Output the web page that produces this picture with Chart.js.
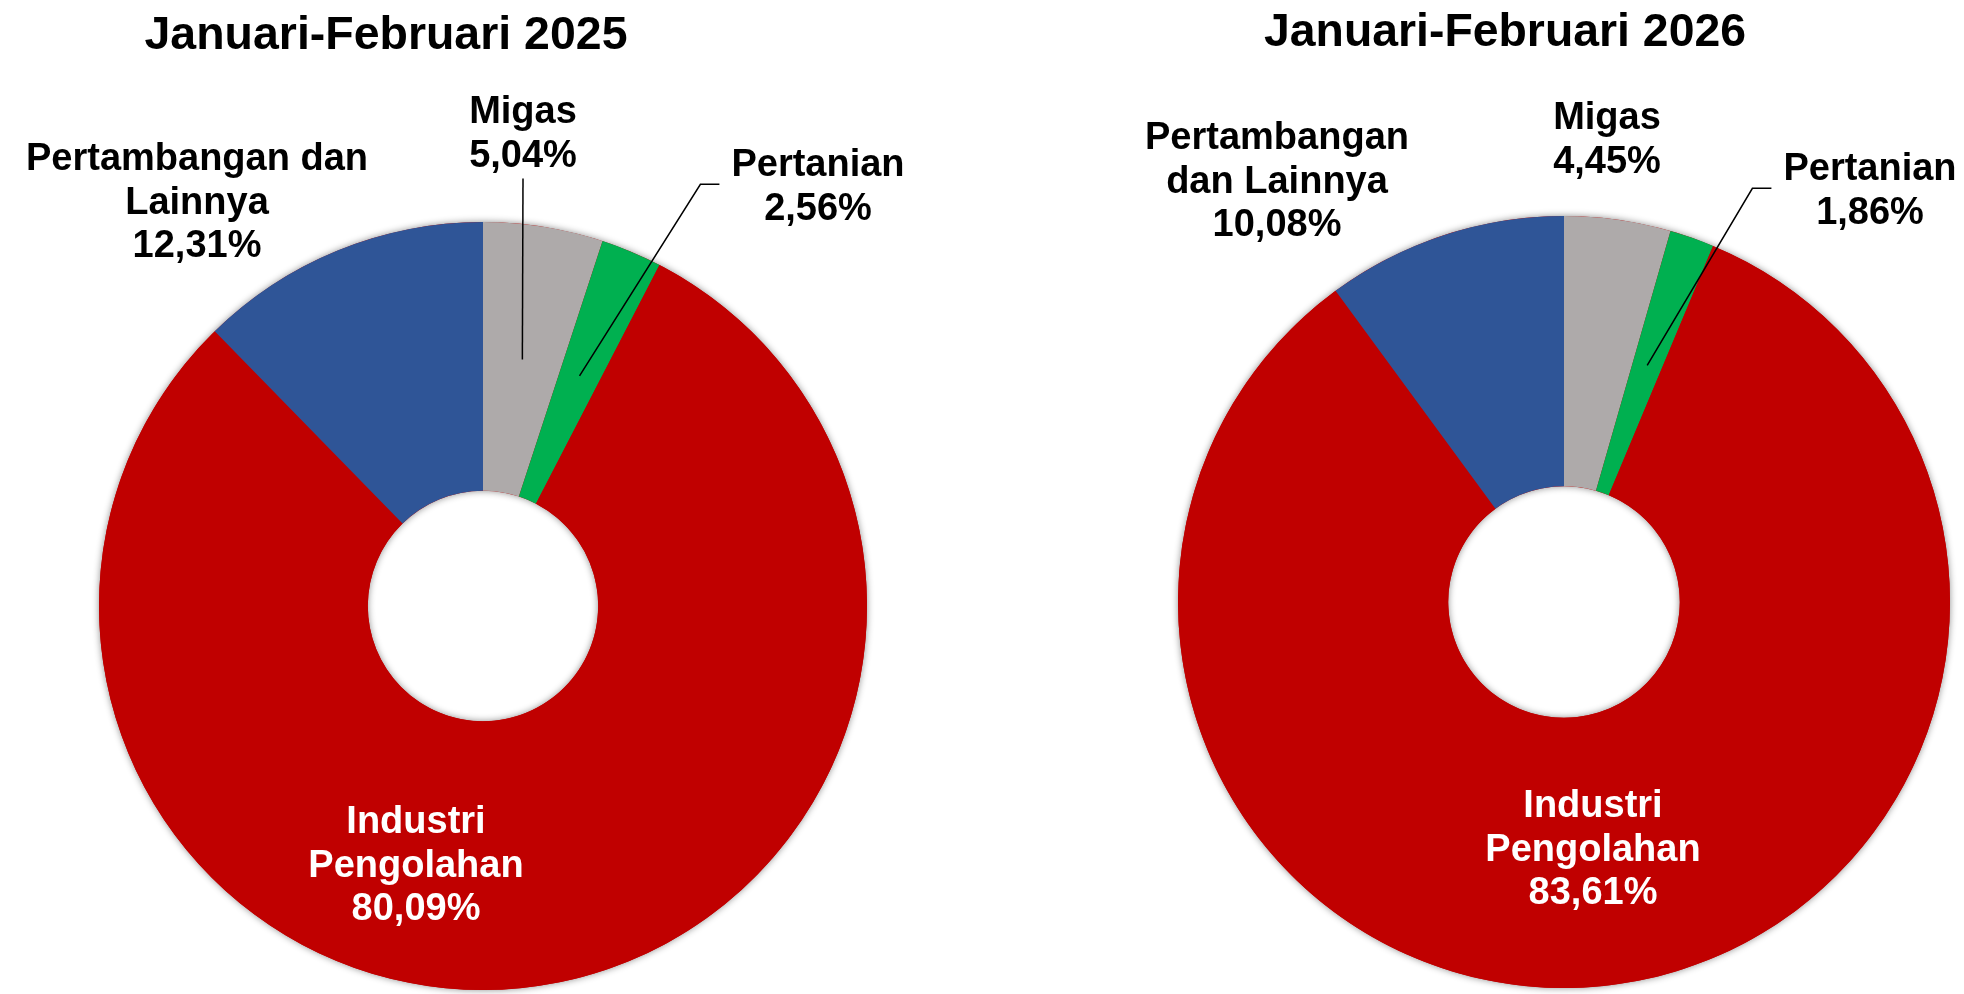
<!DOCTYPE html>
<html><head><meta charset="utf-8">
<script src="https://cdn.jsdelivr.net/npm/chart.js@4.4.1/dist/chart.umd.min.js"></script>
<style>
html,body{margin:0;padding:0;background:#fff;width:1964px;height:994px;overflow:hidden}
canvas{position:absolute;top:0}
#c1{left:0}
#c2{left:982px}
</style></head><body>
<canvas id="c1" width="982" height="994"></canvas>
<canvas id="c2" width="982" height="994"></canvas>
<script>
// ---- data ----
const categories = ['Migas', 'Pertanian', 'Industri Pengolahan', 'Pertambangan dan Lainnya'];
const values2025 = [5.04, 2.56, 80.09, 12.31];
const values2026 = [4.45, 1.86, 83.61, 10.08];
const titles = ['Januari-Februari 2025', 'Januari-Februari 2026'];
const labelLines2025 = [['Migas'], ['Pertanian'], ['Industri', 'Pengolahan'], ['Pertambangan dan', 'Lainnya']];
const labelLines2026 = [['Migas'], ['Pertanian'], ['Industri', 'Pengolahan'], ['Pertambangan', 'dan Lainnya']];
const colors = ['#AEAAAA', '#00B050', '#C00000', '#2F5597'];

// ---- layout (positions / styles) ----
const FONT = '"Liberation Sans", Arial, Helvetica, sans-serif';
const LH = 43.5;
const layouts = [
  { pad: {left: 99, right: 115, top: 222, bottom: 4},
    title: {x: 386, y: 49, width: 483},
    labels: [
      {dx: 40, dy: -483, color: '#000', leader: 'down'},
      {dx: 335, dy: -430, color: '#000', leader: 'elbow'},
      {dx: -67, dy: 227, color: '#fff'},
      {dx: -286, dy: -436, color: '#000'}
    ] },
  { pad: {left: 196, right: 14, top: 216, bottom: 6},
    title: {x: 523, y: 46, width: 482},
    labels: [
      {dx: 43, dy: -473, color: '#000'},
      {dx: 306, dy: -422, color: '#000', leader: 'elbow'},
      {dx: 29, dy: 215, color: '#fff'},
      {dx: -287, dy: -453, color: '#000'}
    ] }
];

function fmt(v) { return v.toFixed(2).replace('.', ',') + '%'; }

const decor = {
  id: 'decor',
  beforeDatasetsDraw(chart, args, opts) {
    const a = chart.getDatasetMeta(0).data[0];
    const p = a.getProps(['x', 'y', 'outerRadius', 'innerRadius'], true);
    const ctx = chart.ctx;
    ctx.save();
    ctx.shadowColor = 'rgba(0,0,0,0.45)';
    ctx.shadowBlur = 7;
    ctx.fillStyle = colors[2];
    ctx.beginPath();
    ctx.arc(p.x, p.y, p.outerRadius, 0, Math.PI * 2);
    ctx.arc(p.x, p.y, p.innerRadius, 0, Math.PI * 2, true);
    ctx.fill();
    ctx.restore();
  },
  afterDatasetsDraw(chart, args, opts) {
    const L = opts.layout;
    const ctx = chart.ctx;
    const meta = chart.getDatasetMeta(0);
    const c = meta.data[0].getProps(['x', 'y'], true);
    // title
    ctx.save();
    ctx.font = 'bold 47px ' + FONT;
    const tw = ctx.measureText(opts.title).width;
    ctx.translate(L.title.x, L.title.y);
    ctx.scale(L.title.width / tw, 1);
    ctx.textAlign = 'center';
    ctx.textBaseline = 'alphabetic';
    ctx.fillStyle = '#000';
    ctx.fillText(opts.title, 0, 0);
    ctx.restore();
    // labels
    ctx.save();
    ctx.font = 'bold 38px ' + FONT;
    ctx.textAlign = 'center';
    ctx.textBaseline = 'alphabetic';
    meta.data.forEach((arc, i) => {
      const lab = L.labels[i];
      const lines = opts.lines[i].concat([fmt(opts.values[i])]);
      const lx = c.x + lab.dx, ly = c.y + lab.dy;
      ctx.fillStyle = lab.color;
      let maxW = 0;
      lines.forEach((t, k) => {
        ctx.fillText(t, lx, ly + k * LH);
        maxW = Math.max(maxW, ctx.measureText(t).width);
      });
      if (lab.leader) {
        const tp = arc.tooltipPosition(true);
        const n = lines.length;
        ctx.strokeStyle = '#000';
        ctx.lineWidth = 1.5;
        ctx.beginPath();
        if (lab.leader === 'down') {
          ctx.moveTo(lx, ly + (n - 1) * LH + 12);
        } else {
          const left = lx - maxW / 2;
          const my = ly - 13.5 + (n - 1) * LH / 2;
          ctx.moveTo(left - 12, my);
          ctx.lineTo(left - 31, my);
        }
        ctx.lineTo(tp.x, tp.y);
        ctx.stroke();
      }
    });
    ctx.restore();
  }
};

function makeChart(id, values, lines, idx) {
  const L = layouts[idx];
  return new Chart(document.getElementById(id), {
    type: 'doughnut',
    data: {
      labels: categories,
      datasets: [{ data: values, backgroundColor: colors, borderWidth: 0, hoverOffset: 0 }]
    },
    options: {
      responsive: false,
      animation: false,
      events: [],
      cutout: '30%',
      rotation: 0,
      layout: { padding: L.pad },
      plugins: {
        legend: { display: false },
        tooltip: { enabled: false },
        title: { display: false },
        decor: { layout: L, title: titles[idx], lines: lines, values: values }
      }
    },
    plugins: [decor]
  });
}

makeChart('c1', values2025, labelLines2025, 0);
makeChart('c2', values2026, labelLines2026, 1);
</script>
</body></html>
